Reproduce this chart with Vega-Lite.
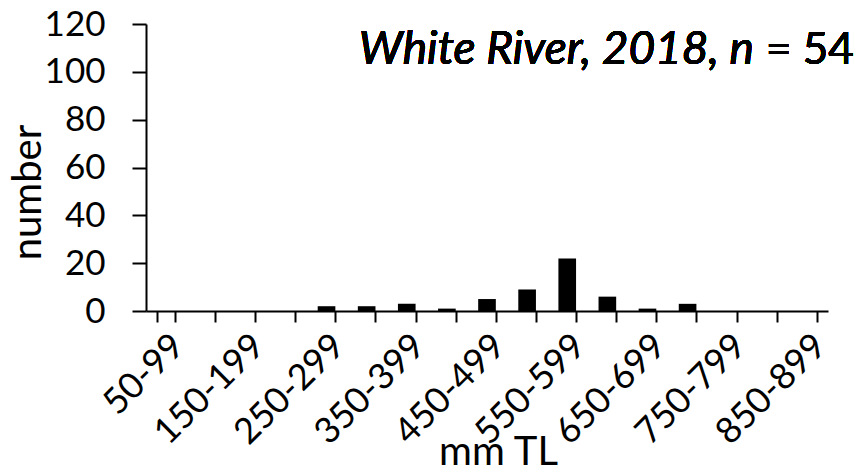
{
  "$schema": "https://vega.github.io/schema/vega-lite/v6.json",
  "width": 682,
  "height": 287,
  "autosize": {"type": "none"},
  "padding": {"left": 146, "top": 24, "right": 30, "bottom": 161},
  "background": "white",
  "config": {
    "font": "Lato",
    "view": {"stroke": null}
  },
  "data": {
    "values": [
      {"bin": "50-99", "count": 0},
      {"bin": "100-149", "count": 0},
      {"bin": "150-199", "count": 0},
      {"bin": "200-249", "count": 0},
      {"bin": "250-299", "count": 2},
      {"bin": "300-349", "count": 2},
      {"bin": "350-399", "count": 3},
      {"bin": "400-449", "count": 1},
      {"bin": "450-499", "count": 5},
      {"bin": "500-549", "count": 9},
      {"bin": "550-599", "count": 22},
      {"bin": "600-649", "count": 6},
      {"bin": "650-699", "count": 1},
      {"bin": "700-749", "count": 3},
      {"bin": "750-799", "count": 0},
      {"bin": "800-849", "count": 0},
      {"bin": "850-899", "count": 0}
    ]
  },
  "layer": [
    {
      "mark": {"type": "bar", "color": "black"},
      "encoding": {
        "x": {
          "field": "bin",
          "type": "ordinal",
          "sort": null,
          "scale": {"paddingInner": 0.56, "paddingOuter": 0.28},
          "axis": {
            "title": "mm TL",
            "titleFont": "Lato",
            "titleFontSize": 40,
            "titleFontWeight": "normal",
            "titleColor": "black",
            "titleX": 352,
            "titleY": 153,
            "titleBaseline": "alphabetic",
            "titleAlign": "center",
            "labelExpr": "toNumber(split(datum.label, '-')[0]) % 100 == 50 ? datum.label : ''",
            "labelAngle": -45,
            "labelFontSize": 36,
            "labelColor": "black",
            "labelPadding": 6,
            "labelOverlap": false,
            "tickBand": "extent",
            "tickSize": 11,
            "tickWidth": 2,
            "tickColor": "black",
            "domainColor": "black",
            "domainWidth": 2
          }
        },
        "y": {
          "field": "count",
          "type": "quantitative",
          "scale": {"domain": [0, 120], "nice": false},
          "axis": {
            "title": "number",
            "titleFont": "Lato",
            "titleFontSize": 40,
            "titleFontWeight": "normal",
            "titleColor": "black",
            "titleX": -106,
            "titleY": 168,
            "titleAngle": -90,
            "titleAlign": "center",
            "titleBaseline": "alphabetic",
            "values": [0, 20, 40, 60, 80, 100, 120],
            "labelFontSize": 35,
            "labelColor": "black",
            "labelPadding": 27,
            "tickSize": 14,
            "tickWidth": 2,
            "tickColor": "black",
            "domainColor": "black",
            "domainWidth": 2,
            "grid": false
          }
        }
      }
    },
    {
      "mark": {"type": "text", "text": "White River, 2018, n", "fontStyle": "italic", "fontSize": 46, "align": "right", "baseline": "alphabetic", "dx": -54, "color": "black"},
      "encoding": {
        "x": {"datum": "850-899", "type": "ordinal"},
        "y": {"datum": 103.3, "type": "quantitative"}
      }
    },
    {
      "mark": {"type": "text", "text": "= 54", "fontSize": 44, "align": "left", "baseline": "alphabetic", "dx": -42, "color": "black"},
      "encoding": {
        "x": {"datum": "850-899", "type": "ordinal"},
        "y": {"datum": 103.3, "type": "quantitative"}
      }
    }
  ]
}
